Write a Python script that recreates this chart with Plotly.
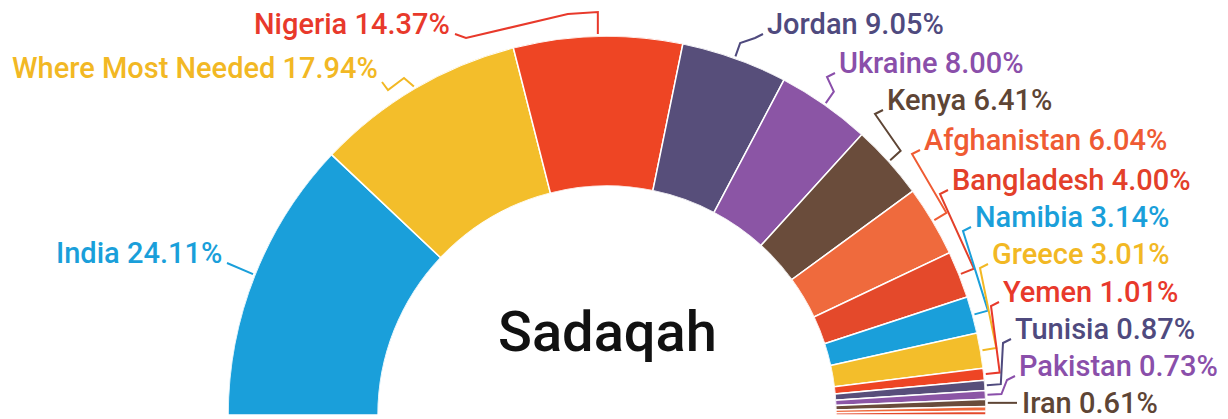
import math
import plotly.graph_objects as go

# ---------------- data ----------------
labels = ["India", "Where Most Needed", "Nigeria", "Jordan", "Ukraine", "Kenya",
          "Afghanistan", "Bangladesh", "Namibia", "Greece", "Yemen", "Tunisia",
          "Pakistan", "Iran"]
values = [24.11, 17.94, 14.37, 9.05, 8.00, 6.41, 6.04, 4.00, 3.14, 3.01, 1.01,
          0.87, 0.73, 0.61]
other_values = [0.40, 0.31]          # tiny unlabeled slices at the bottom
center_title = "Sadaqah"

fill_colors = ["#1A9FDA", "#F3BE2B", "#EE4524", "#574E7A", "#8B55A5", "#6A4C3B",
               "#EF6A3D", "#E4492B", "#1A9FDA", "#F3BE2B", "#EE4524", "#574E7A",
               "#8B55A5", "#6A4C3B"]
other_colors = ["#EF6A3D", "#E4492B"]
text_colors = ["#1A9FDA", "#F2B824", "#E8392B", "#4F4A7E", "#8A4FAA", "#5E4535",
               "#EF5B33", "#E3402A", "#1A9FDA", "#F2B824", "#E8392B", "#4F4A7E",
               "#8A4FAA", "#5E4535"]

# ---------------- layout constants ----------------
W, H = 1228, 419
CX, CY, R = 607, 415, 379
HOLE = 0.604
FONT = "Roboto"
LABEL_SIZE = 29

# label anchor positions (pixels) and side
label_pos = [(224, 253, "right"), (380, 68, "right"), (452, 24, "right"),
             (765, 24, "left"), (837, 63, "left"), (885, 100, "left"),
             (922, 140, "left"), (950, 180, "left"), (973, 217, "left"),
             (990, 254, "left"), (1001, 292, "left"), (1013, 329, "left"),
             (1017, 366, "left"), (1020, 403, "left")]

all_vals = values + other_values
all_cols = fill_colors + other_colors
scale = 180.0 / sum(all_vals)

thetas, widths, mids = [], [], []
cum = 0.0
for v in all_vals:
    start = 180 - cum * scale
    w = v * scale
    thetas.append(start - w / 2)
    widths.append(w)
    mids.append(start - w / 2)
    cum += v

fig = go.Figure()
fig.add_trace(go.Barpolar(
    r=[1] * len(all_vals), base=[0] * len(all_vals), theta=thetas, width=widths,
    marker=dict(color=all_cols, line=dict(color="white", width=1.5)),
    hoverinfo="skip", showlegend=False, subplot="polar"))


def pt(angle, rad):
    a = math.radians(angle)
    return CX + rad * math.cos(a), CY - rad * math.sin(a)


annotations = []
for i, name in enumerate(labels):
    lx, ly, side = label_pos[i]
    m = mids[i]
    edge = pt(m, R + 2)
    if i == 0:
        route = [(lx + 3, ly + 10), edge]
    elif i == 1:
        route = [(lx + 2, ly + 14), (lx + 8, ly + 22), (lx + 24, ly + 10), edge]
    elif i == 2:
        route = [(lx + 3, ly + 10), (lx + 14, ly + 14), (edge[0] - 30, ly - 10),
                 (edge[0], ly - 12), edge]
    elif name == "Iran":
        route = [(lx - 3, edge[1]), edge]
    else:
        out = pt(m, R + 16)
        route = [(lx - 2, ly + 10), (lx - 10, ly + 14), out, edge]
    fig.add_trace(go.Scatter(
        x=[p[0] for p in route], y=[p[1] for p in route], mode="lines",
        line=dict(color=text_colors[i], width=2), hoverinfo="skip",
        showlegend=False))
    annotations.append(dict(
        x=lx, y=ly, xref="x", yref="y", text=f"{name} {values[i]:.2f}%",
        showarrow=False, xanchor=side, yanchor="middle",
        font=dict(family=FONT, size=LABEL_SIZE, color=text_colors[i], weight=500)))

annotations.append(dict(
    x=CX, y=332, xref="x", yref="y", text=center_title, showarrow=False,
    xanchor="center", yanchor="middle",
    font=dict(family=FONT, size=56, color="#111111", weight=500)))

fig.update_layout(
    width=W, height=H, margin=dict(l=0, r=0, t=0, b=0),
    paper_bgcolor="white", plot_bgcolor="rgba(0,0,0,0)",
    showlegend=False,
    xaxis=dict(range=[0, W], visible=False, fixedrange=True, domain=[0, 1]),
    yaxis=dict(range=[H, 0], visible=False, fixedrange=True, domain=[0, 1]),
    polar=dict(
        domain=dict(x=[(CX - R) / W, (CX + R) / W], y=[(H - CY) / H, (H - CY + R) / H]),
        sector=[0, 180], hole=HOLE, bgcolor="rgba(0,0,0,0)",
        radialaxis=dict(visible=False, range=[0, 1]),
        angularaxis=dict(visible=False, direction="counterclockwise", rotation=0)),
    annotations=annotations,
)

fig.write_html("out.html")
